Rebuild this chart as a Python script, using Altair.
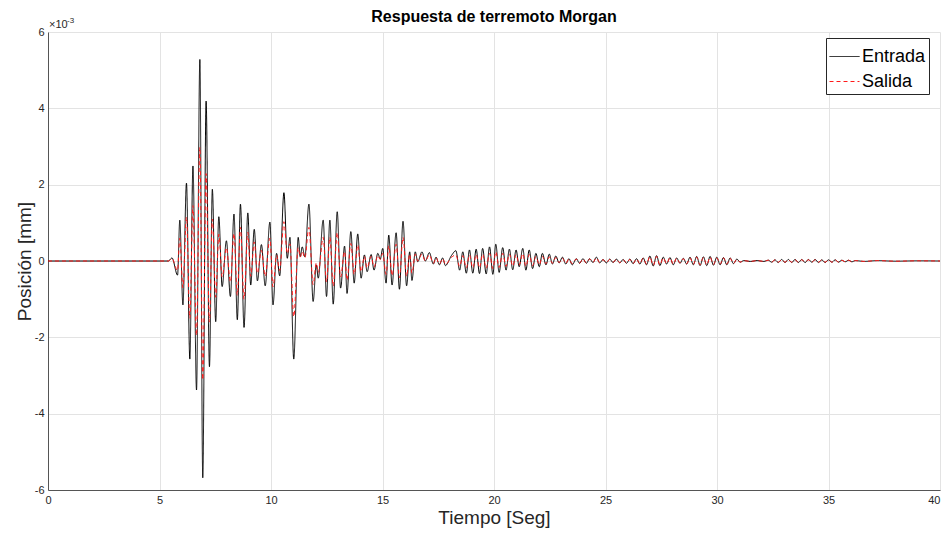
import altair as alt
import pandas as pd

FONT = "Liberation Sans"

# Extremes (time in s, position in units of 1e-3 mm)
T = [0.0, 5.40, 5.56, 5.81, 5.91, 6.05, 6.21, 6.36, 6.50, 6.66, 6.81, 6.94, 7.09, 7.24, 7.37, 7.52,
     7.66, 7.81, 8.00, 8.18, 8.34, 8.49, 8.63, 8.79, 8.96, 9.09, 9.25, 9.39, 9.57, 9.74, 9.95,
     10.09, 10.25, 10.39, 10.58, 10.73, 10.85, 11.02, 11.22, 11.31, 11.40, 11.52, 11.70, 11.89,
     12.03, 12.12, 12.34, 12.49, 12.64, 12.79, 12.97, 13.12, 13.30, 13.41, 13.58, 13.73, 13.89,
     14.04, 14.19, 14.31, 14.49, 14.62, 14.79, 14.90, 15.01, 15.16, 15.28, 15.43, 15.61, 15.76,
     15.92, 16.08, 16.22, 16.32, 16.47, 16.58, 16.77, 16.92, 17.10, 17.28, 17.40, 17.55, 17.70,
     17.82, 18.10, 18.29, 18.46, 18.60, 18.76, 18.90, 19.05, 19.20, 19.35, 19.49, 19.65, 19.80,
     19.95, 20.08, 20.23, 20.39, 20.54, 20.69, 20.84, 20.99, 21.13, 21.29, 21.43, 21.58, 21.73,
     21.88, 22.03, 22.17, 22.33, 22.48, 22.62, 22.77, 22.92, 23.07, 23.22, 23.36, 23.51, 23.69,
     23.84, 23.99, 24.14, 24.29, 24.44, 24.59, 24.74, 24.89, 25.04, 25.19, 25.34, 25.49, 25.64,
     25.79, 25.94, 26.09, 26.24, 26.39, 26.54, 26.69, 26.84, 26.99, 27.14, 27.29, 27.44, 27.59,
     27.74, 27.89, 28.04, 28.19, 28.34, 28.49, 28.64, 28.79, 28.94, 29.09, 29.24, 29.39, 29.54,
     29.69, 29.84, 29.99, 30.14, 30.29, 30.44, 30.59, 30.74, 30.89, 31.04, 31.20, 31.50, 31.80,
     32.10, 32.30, 32.45, 32.60, 32.75, 32.90, 33.05, 33.20, 33.35, 33.50, 33.65, 33.80, 33.95,
     34.10, 34.25, 34.40, 34.55, 34.70, 34.85, 35.00, 35.15, 35.30, 35.45, 35.60, 35.75, 35.90,
     36.05, 36.20, 36.60, 37.20, 38.00, 39.00, 40.00]

ENTRADA = [0.0, 0.0, 0.08, -0.37, 1.07, -1.15, 2.04, -2.57, 2.49, -3.38, 5.28, -5.68, 4.19, -2.77, 1.88, -1.59,
           1.16, -0.67, 0.53, -0.93, 1.23, -1.54, 1.49, -1.74, 1.26, -0.63, 0.83, -0.52, 0.43, -0.65, 1.02,
           -1.15, 0.20, -0.39, 1.79, 0.07, 0.62, -2.57, 0.62, 0.11, 0.37, 0.11, 1.49, -1.06,
           -0.10, -0.45, 1.07, -0.93, 1.07, -1.13, 1.29, -0.71, 0.39, -0.85, 0.77, -0.58, 0.71,
           -0.45, 0.16, -0.28, 0.17, -0.24, 0.20, 0.05, 0.33, -0.58, 0.68, -0.63, 0.74, -0.74,
           1.04, -0.65, 0.24, -0.51, 0.24, -0.02, 0.24, 0.00, 0.22, -0.08, 0.10, -0.10, 0.08,
           -0.12, 0.15, 0.27, -0.24, 0.24, -0.32, 0.29, -0.32, 0.31, -0.33, 0.33, -0.34, 0.37,
           -0.35, 0.44, -0.30, 0.35, -0.24, 0.31, -0.23, 0.29, -0.15, 0.33, -0.24, 0.29, -0.20,
           0.20, -0.15, 0.20, -0.10, 0.18, -0.08, 0.13, -0.05, 0.10, -0.08, 0.06, -0.10, 0.06,
           -0.06, 0.06, -0.06, 0.06, -0.04, 0.10, -0.05, 0.04, -0.05, 0.05, -0.04, 0.05, -0.05,
           0.04, -0.06, 0.05, -0.07, 0.06, -0.08, 0.08, -0.10, 0.13, -0.13, 0.14, -0.12, 0.10,
           -0.08, 0.09, -0.10, 0.08, -0.06, 0.07, -0.08, 0.10, -0.10, 0.12, -0.12, 0.11, -0.12,
           0.12, -0.11, 0.10, -0.10, 0.09, -0.10, 0.08, -0.07, 0.05, -0.03, 0.01, -0.01, 0.01,
           -0.01, 0.02, -0.03, 0.03, -0.04, 0.04, -0.04, 0.04, -0.04, 0.04, -0.04, 0.04, -0.04,
           0.04, -0.03, 0.04, -0.04, 0.03, -0.04, 0.03, -0.03, 0.03, -0.03, 0.02, -0.02, 0.02,
           -0.02, 0.01, -0.01, 0.01, -0.005, 0.005, 0.0]

SALIDA = [0.0, 0.0, 0.06, -0.25, 0.60, -0.70, 1.15, -1.50, 1.45, -1.95, 2.98, -3.11, 2.29, -1.60, 1.10, -0.95,
          0.70, -0.42, 0.35, -0.55, 0.72, -0.90, 0.88, -1.00, 0.75, -0.40, 0.50, -0.32, 0.28, -0.40, 0.60,
          -0.68, 0.15, -0.25, 1.03, 0.20, 0.45, -1.46, 0.35, 0.10, 0.25, 0.08, 0.88, -0.62,
          -0.05, -0.30, 0.62, -0.55, 0.62, -0.66, 0.75, -0.42, 0.25, -0.50, 0.46, -0.35, 0.42,
          -0.28, 0.12, -0.18, 0.12, -0.16, 0.14, 0.04, 0.20, -0.35, 0.40, -0.38, 0.44, -0.44,
          0.62, -0.40, 0.18, -0.32, 0.18, 0.00, 0.18, 0.00, 0.16, -0.06, 0.08, -0.08, 0.06,
          -0.09, 0.10, 0.16, -0.14, 0.14, -0.18, 0.16, -0.18, 0.17, -0.18, 0.18, -0.19, 0.20,
          -0.20, 0.24, -0.17, 0.20, -0.14, 0.18, -0.13, 0.17, -0.10, 0.19, -0.14, 0.17, -0.12,
          0.12, -0.10, 0.12, -0.07, 0.11, -0.06, 0.09, -0.04, 0.07, -0.06, 0.05, -0.07, 0.05,
          -0.05, 0.05, -0.05, 0.05, -0.03, 0.08, -0.04, 0.03, -0.04, 0.04, -0.03, 0.04, -0.04,
          0.03, -0.05, 0.04, -0.06, 0.05, -0.07, 0.07, -0.08, 0.11, -0.11, 0.12, -0.10, 0.08,
          -0.07, 0.08, -0.08, 0.07, -0.05, 0.06, -0.07, 0.08, -0.08, 0.10, -0.10, 0.09, -0.10,
          0.10, -0.09, 0.08, -0.08, 0.08, -0.08, 0.07, -0.06, 0.04, -0.03, 0.01, -0.01, 0.01,
          -0.01, 0.02, -0.03, 0.03, -0.03, 0.03, -0.03, 0.03, -0.03, 0.03, -0.03, 0.03, -0.03,
          0.03, -0.03, 0.03, -0.03, 0.03, -0.03, 0.03, -0.03, 0.03, -0.03, 0.02, -0.02, 0.02,
          -0.02, 0.01, -0.01, 0.01, -0.005, 0.005, 0.0]

SERIES = ["Entrada", "Salida"]
X_TICKS = [0, 5, 10, 15, 20, 25, 30, 35, 40]
Y_TICKS = [-6, -4, -2, 0, 2, 4, 6]

df = pd.DataFrame({
    "t": T + T,
    "v": ENTRADA + SALIDA,
    "serie": [SERIES[0]] * len(T) + [SERIES[1]] * len(T),
})

leg = alt.Legend(
    title=None, orient="none", legendX=778, legendY=6,
    strokeColor="#262626", fillColor="white", padding=3,
    labelFont=FONT, labelFontSize=18, labelColor="black", labelOffset=2,
    symbolType="stroke", symbolSize=900, symbolStrokeWidth=1, rowPadding=0,
)

lines = alt.Chart(df).mark_line(strokeWidth=1, interpolate="monotone", clip=True).encode(
    x=alt.X("t:Q", scale=alt.Scale(domain=[0, 40], nice=False),
            axis=alt.Axis(values=X_TICKS, title="Tiempo [Seg]", labelExpr="'' + datum.value",
                          labelFlush=False,
                          labelAlign={"condition": {"test": "datum.value == 40", "value": "right"},
                                      "value": "center"})),
    y=alt.Y("v:Q", scale=alt.Scale(domain=[-6, 6], nice=False),
            axis=alt.Axis(values=Y_TICKS, title="Posición [mm]", labelExpr="'' + datum.value")),
    color=alt.Color("serie:N", scale=alt.Scale(domain=SERIES, range=["#000000", "#ff1a1a"]), legend=leg),
    strokeDash=alt.StrokeDash("serie:N", scale=alt.Scale(domain=SERIES, range=[[1, 0], [4, 3]]), legend=leg),
)

exp_base = alt.Chart(pd.DataFrame({"s": ["×10"]})).mark_text(
    font=FONT, fontSize=11, align="left", baseline="alphabetic", color="#262626"
).encode(x=alt.value(1), y=alt.value(-4), text="s:N")

exp_pow = alt.Chart(pd.DataFrame({"s": ["-3"]})).mark_text(
    font=FONT, fontSize=8, align="left", baseline="alphabetic", color="#262626"
).encode(x=alt.value(19), y=alt.value(-9), text="s:N")

chart = alt.layer(lines, exp_base, exp_pow).properties(
    width=892, height=458,
    autosize="none",
    padding={"left": 40, "top": 24, "right": 1, "bottom": 41},
    title=alt.TitleParams("Respuesta de terremoto Morgan", font=FONT, fontSize=16,
                          fontWeight="bold", color="black", anchor="middle", offset=-8),
).configure_view(stroke=None).configure_axis(
    grid=True, gridColor="#e3e3e3", gridWidth=1,
    domainColor="#555555", ticks=False,
    labelFont=FONT, labelFontSize=11, labelColor="#262626", labelPadding=4,
    titleFont=FONT, titleFontSize=19, titleFontWeight="normal", titleColor="#262626",
).configure_axisX(titlePadding=3).configure_axisY(titlePadding=0)

chart.save("out.html", embed_options={"renderer": "svg", "actions": False})
